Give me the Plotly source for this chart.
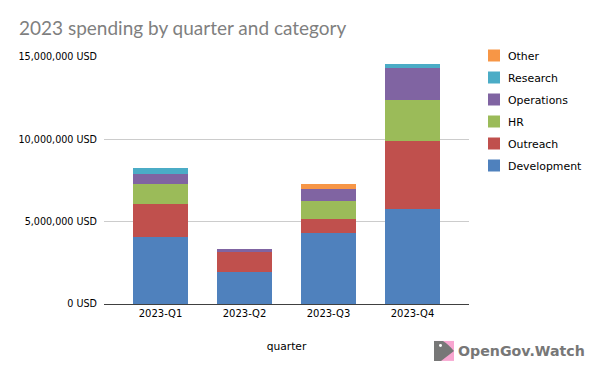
import plotly.graph_objects as go

quarters = ["2023-Q1", "2023-Q2", "2023-Q3", "2023-Q4"]
development = [4040000, 1940000, 4300000, 5760000]
outreach = [2020000, 1270000, 850000, 4120000]
hr = [1210000, 0, 1090000, 2480000]
operations = [600000, 120000, 730000, 2000000]
research = [360000, 0, 0, 240000]
other = [0, 0, 300000, 0]

series = [
    ("Development", development, "#4f81bd"),
    ("Outreach", outreach, "#c0504d"),
    ("HR", hr, "#9bbb59"),
    ("Operations", operations, "#8064a2"),
    ("Research", research, "#4bacc6"),
    ("Other", other, "#f79646"),
]
tick_vals = [0, 5000000, 10000000, 15000000]
tick_text = ["0 USD", "5,000,000 USD", "10,000,000 USD", "15,000,000 USD"]

W, H = 600, 371
L, R, T, B = 104, 469, 56.5, 304
def px(x): return (x - L) / (R - L)
def py(y): return (B - y) / (B - T)

fig = go.Figure()
for i, (name, vals, col) in enumerate(series):
    fig.add_bar(x=quarters, y=vals, name=name, marker=dict(color=col, line=dict(width=0)),
                legendgroup=name, legendrank=100 - i)

shapes = [
    dict(type="rect", xref="paper", yref="paper", x0=px(434), x1=px(454), y0=py(361), y1=py(341),
         fillcolor="#f8a5d0", line=dict(width=0), layer="above"),
    dict(type="path", xref="paper", yref="paper", layer="above", fillcolor="#777777", line=dict(width=0),
         path=f"M {px(434)} {py(361)} L {px(434)} {py(341)} L {px(443)} {py(341)} Q {px(448)} {py(344)} {px(454)} {py(351)} L {px(441)} {py(361)} Z"),
    dict(type="circle", xref="paper", yref="paper", layer="above", fillcolor="#ffffff", line=dict(width=0),
         x0=px(439), x1=px(442), y0=py(347), y1=py(344)),
]

fig.update_layout(
    width=W, height=H, autosize=False, barmode="stack", bargap=0.345,
    paper_bgcolor="white", plot_bgcolor="white",
    margin=dict(l=L, r=W - R, t=T, b=H - B, autoexpand=False),
    title=dict(text="2023 spending by quarter and category", x=19 / W, xanchor="left",
               y=1 - 28 / H, yanchor="middle", font=dict(family="Lato", size=19, color="#7f7f7f")),
    font=dict(family="DejaVu Sans", size=10, color="#000000"),
    xaxis=dict(range=[-0.673, 3.673], showgrid=False, ticks="", showline=True, linecolor="#404040", linewidth=1,
               title=dict(text="quarter", standoff=24, font=dict(size=10.7)), tickfont=dict(size=10)),
    yaxis=dict(range=[0, 15000000], tickvals=tick_vals, ticktext=tick_text, gridcolor="#cccccc", gridwidth=1,
               ticks="", showline=False, zeroline=False, tickfont=dict(size=9.6), ticklabelstandoff=6),
    legend=dict(xref="container", yref="container", x=474 / W, xanchor="left", y=1 - 41 / H, yanchor="top",
                traceorder="grouped", tracegroupgap=3, font=dict(size=10.9), bgcolor="rgba(0,0,0,0)"),
    shapes=shapes,
    annotations=[dict(text="<b>OpenGov.Watch</b>", xref="paper", yref="paper", x=px(456), y=py(351),
                      xanchor="left", yanchor="middle", showarrow=False,
                      font=dict(family="DejaVu Sans", size=14.2, color="#777777"))],
)
post = """
document.body.style.margin = '0';
var gd = document.getElementById('{plot_id}');
function shiftLegendText() {
  gd.querySelectorAll('.legendtext').forEach(function (t) {
    if (!t.dataset.shifted) {
      t.setAttribute('x', parseFloat(t.getAttribute('x')) - 6);
      t.dataset.shifted = '1';
    }
  });
}
gd.on('plotly_afterplot', shiftLegendText);
shiftLegendText();
"""
fig.write_html("out.html", post_script=post, config={"displayModeBar": False})
